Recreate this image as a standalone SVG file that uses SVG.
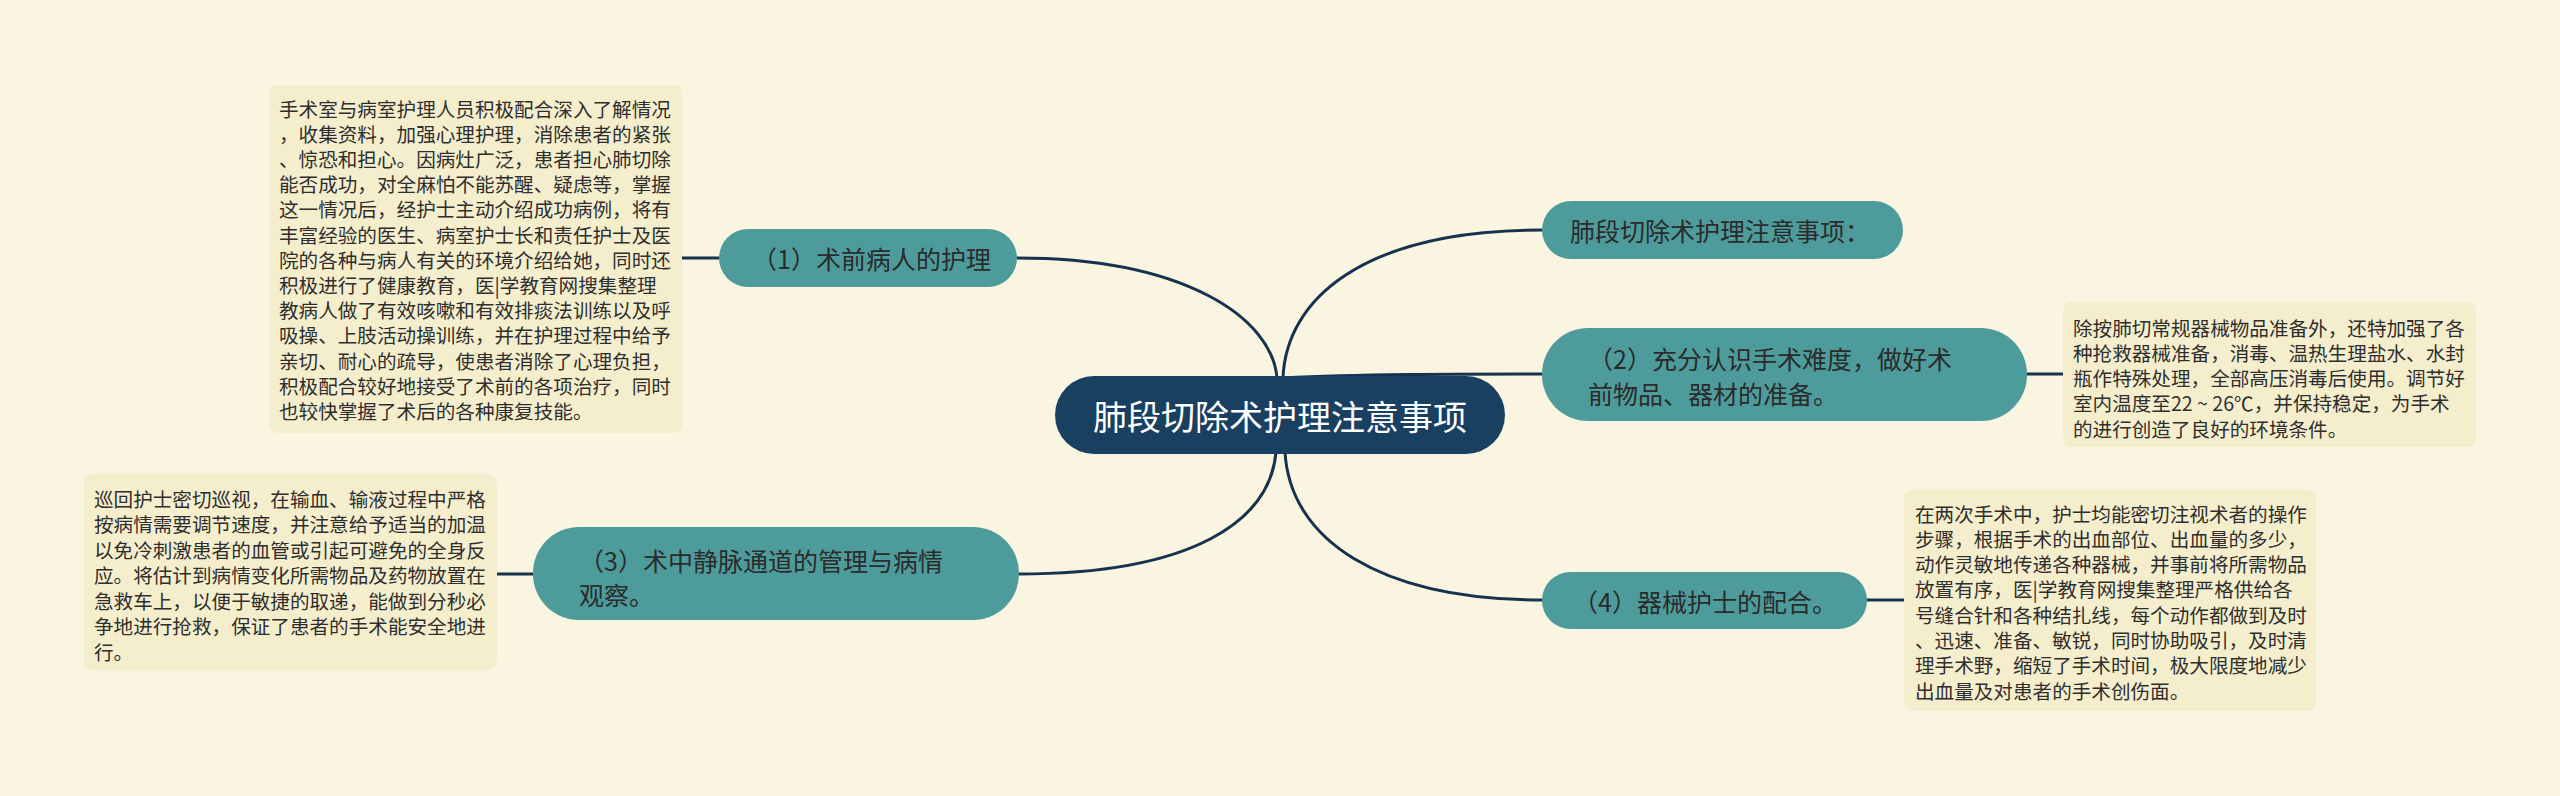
<svg xmlns="http://www.w3.org/2000/svg" width="2560" height="796" viewBox="0 0 2560 796">
<style>
.bg{fill:#faf5e1}
.conn{fill:none;stroke:#17324f;stroke-width:3;stroke-linecap:round}
.box{fill:#f5eecd}
.sub{fill:#4d9c9b}
.root{fill:#1a4061}
text{font-family:"Noto Sans CJK SC","Noto Sans",sans-serif;dominant-baseline:central}
.dt{font-size:19.6px;fill:#2e2e2e}
.st{font-size:25px;fill:#2b2b2b}
.rt{font-size:34px;fill:#ffffff}
</style>
<rect class="bg" x="0" y="0" width="2560" height="796"/>
<g id="connectors">
<path class="conn" d="M1017,258 C1185,258 1272,318 1277,378"/>
<path class="conn" d="M1283,378 C1286,300 1362,230 1542,230"/>
<path class="conn" d="M1283,378 C1360,374 1450,374 1542,374"/>
<path class="conn" d="M1018,574 C1195,574 1270,520 1276,452"/>
<path class="conn" d="M1285,452 C1290,540 1380,600 1542,600"/>
<path class="conn" d="M682,258 L719,258"/>
<path class="conn" d="M497,574 L533,574"/>
<path class="conn" d="M2027,374 L2063,374"/>
<path class="conn" d="M1867,600 L1904,600"/>
</g>
<g id="root">
<rect class="root" x="1055" y="376" width="450" height="78" rx="39"/>
<text class="rt" x="1280" y="415" text-anchor="middle">肺段切除术护理注意事项</text>
</g>
<g id="n1">
<rect class="sub" x="719" y="229" width="298" height="58" rx="29"/>
<text class="st" x="752" y="258">（1）术前病人的护理</text>
</g>
<g id="n2">
<rect class="sub" x="1542" y="201" width="361" height="58" rx="29"/>
<text class="st" x="1570" y="230">肺段切除术护理注意事项：</text>
</g>
<g id="n3">
<rect class="sub" x="1542" y="328" width="485" height="93" rx="46"/>
<text class="st" x="1588" y="358">（2）充分认识手术难度，做好术</text>
<text class="st" x="1588" y="393">前物品、器材的准备。</text>
</g>
<g id="n4">
<rect class="sub" x="533" y="527" width="486" height="93" rx="46"/>
<text class="st" x="579" y="560">（3）术中静脉通道的管理与病情</text>
<text class="st" x="579" y="594">观察。</text>
</g>
<g id="n5">
<rect class="sub" x="1542" y="572" width="325" height="57" rx="28.5"/>
<text class="st" x="1573" y="601">（4）器械护士的配合。</text>
</g>
<g id="d1">
<rect class="box" x="269" y="85" width="413" height="348" rx="8"/>
<text class="dt" x="279" y="108">手术室与病室护理人员积极配合深入了解情况</text>
<text class="dt" x="279" y="133.2">，收集资料，加强心理护理，消除患者的紧张</text>
<text class="dt" x="279" y="158.4">、惊恐和担心。因病灶广泛，患者担心肺切除</text>
<text class="dt" x="279" y="183.6">能否成功，对全麻怕不能苏醒、疑虑等，掌握</text>
<text class="dt" x="279" y="208.8">这一情况后，经护士主动介绍成功病例，将有</text>
<text class="dt" x="279" y="234">丰富经验的医生、病室护士长和责任护士及医</text>
<text class="dt" x="279" y="259.2">院的各种与病人有关的环境介绍给她，同时还</text>
<text class="dt" x="279" y="284.4">积极进行了健康教育，医|学教育网搜集整理</text>
<text class="dt" x="279" y="309.6">教病人做了有效咳嗽和有效排痰法训练以及呼</text>
<text class="dt" x="279" y="334.8">吸操、上肢活动操训练，并在护理过程中给予</text>
<text class="dt" x="279" y="360">亲切、耐心的疏导，使患者消除了心理负担，</text>
<text class="dt" x="279" y="385.2">积极配合较好地接受了术前的各项治疗，同时</text>
<text class="dt" x="279" y="410.4">也较快掌握了术后的各种康复技能。</text>
</g>
<g id="d2">
<rect class="box" x="84" y="474" width="413" height="196" rx="8"/>
<text class="dt" x="94" y="498">巡回护士密切巡视，在输血、输液过程中严格</text>
<text class="dt" x="94" y="523.5">按病情需要调节速度，并注意给予适当的加温</text>
<text class="dt" x="94" y="549">以免冷刺激患者的血管或引起可避免的全身反</text>
<text class="dt" x="94" y="574.5">应。将估计到病情变化所需物品及药物放置在</text>
<text class="dt" x="94" y="600">急救车上，以便于敏捷的取递，能做到分秒必</text>
<text class="dt" x="94" y="625.5">争地进行抢救，保证了患者的手术能安全地进</text>
<text class="dt" x="94" y="651">行。</text>
</g>
<g id="d3">
<rect class="box" x="2063" y="302" width="413" height="145" rx="8"/>
<text class="dt" x="2073" y="327">除按肺切常规器械物品准备外，还特加强了各</text>
<text class="dt" x="2073" y="352.3">种抢救器械准备，消毒、温热生理盐水、水封</text>
<text class="dt" x="2073" y="377.6">瓶作特殊处理，全部高压消毒后使用。调节好</text>
<text class="dt" x="2073" y="402.9">室内温度至22 ~ 26℃，并保持稳定，为手术</text>
<text class="dt" x="2073" y="428.2">的进行创造了良好的环境条件。</text>
</g>
<g id="d4">
<rect class="box" x="1904" y="490" width="412" height="221" rx="8"/>
<text class="dt" x="1915" y="513">在两次手术中，护士均能密切注视术者的操作</text>
<text class="dt" x="1915" y="538.3">步骤，根据手术的出血部位、出血量的多少，</text>
<text class="dt" x="1915" y="563.6">动作灵敏地传递各种器械，并事前将所需物品</text>
<text class="dt" x="1915" y="588.9">放置有序，医|学教育网搜集整理严格供给各</text>
<text class="dt" x="1915" y="614.2">号缝合针和各种结扎线，每个动作都做到及时</text>
<text class="dt" x="1915" y="639.5">、迅速、准备、敏锐，同时协助吸引，及时清</text>
<text class="dt" x="1915" y="664.8">理手术野，缩短了手术时间，极大限度地减少</text>
<text class="dt" x="1915" y="690.1">出血量及对患者的手术创伤面。</text>
</g>
</svg>
